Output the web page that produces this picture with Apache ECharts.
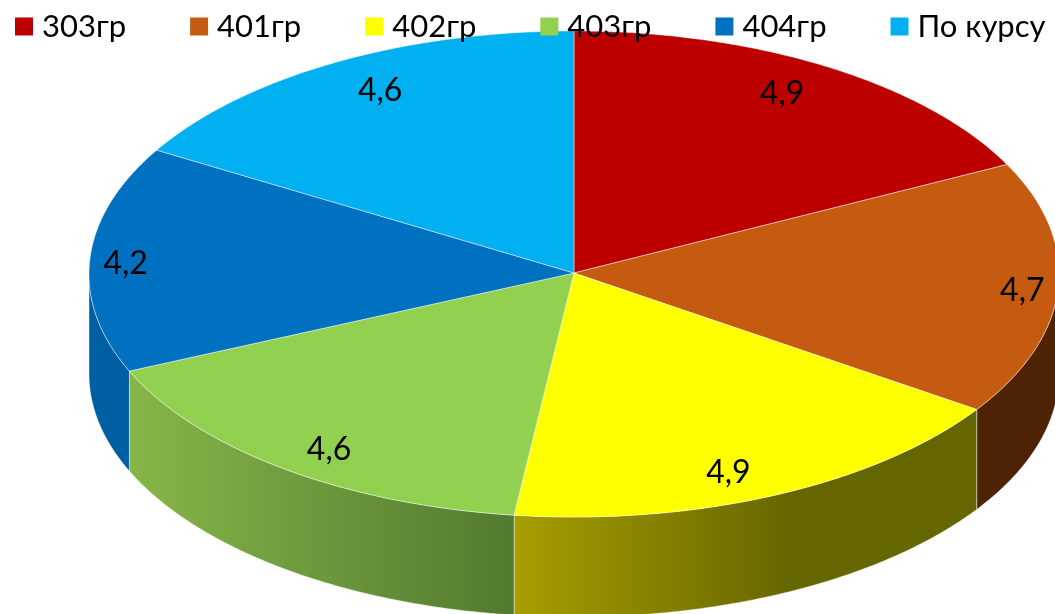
<!DOCTYPE html>
<html><head><meta charset="utf-8">
<style>html,body{margin:0;padding:0;background:#fff}#c{width:1055px;height:614px}</style>
<script src="https://cdn.jsdelivr.net/npm/echarts@6/dist/echarts.min.js"></script>
</head><body><div id="c"></div>
<script>
const categories = ['303гр','401гр','402гр','403гр','404гр','По курсу'];
const values = [4.9,4.7,4.9,4.6,4.2,4.6];
const topColors = ['#BC0000','#C55A11','#FFFF00','#92D050','#0070C0','#00B0F0'];
const wallStart = ['#600000','#4D2205','#A69E00','#86B648','#005EA3','#005880'];
const wallEnd   = ['#600000','#4D2205','#666600','#527A30','#005EA3','#005880'];

const CX=574, CY=274, RX=485, RY=243, DEPTH=100;
const total = values.reduce((a,b)=>a+b,0);
const edge = (deg,dy=0)=>{const r=deg*Math.PI/180;return [CX+RX*Math.sin(r),CY-RY*Math.cos(r)+dy];};
const arc = (a,b,dy=0)=>{const p=[];const n=Math.max(2,Math.ceil((b-a)*2));for(let i=0;i<=n;i++)p.push(edge(a+(b-a)*i/n,dy));return p;};
const LINE='rgba(255,255,255,0.55)';

function render(idx){
  return function(params,api){
    const v=api.value(0);
    let before=0; for(let i=0;i<idx;i++) before+=values[i];
    const a0=before/total*360, a1=(before+v)/total*360;
    const children=[];
    const w0=Math.max(a0,90), w1=Math.min(a1,270);
    if(w1>w0){
      const front=arc(w0,w1,0), back=arc(w0,w1,DEPTH).reverse();
      const xs=front.map(p=>p[0]);
      const xl=Math.min(...xs), xr=Math.max(...xs);
      children.push({type:'polygon',z2:1,shape:{points:front.concat(back)},
        style:{fill:{type:'linear',x:xl,y:0,x2:xr,y2:0,global:true,colorStops:[
          {offset:0,color:wallStart[idx]},{offset:idx===2?0.6:1,color:wallEnd[idx]},{offset:1,color:wallEnd[idx]}]},
          stroke:LINE,lineWidth:0.8}});
    }
    children.push({type:'polygon',z2:2,shape:{points:[[CX,CY-1]].concat(arc(a0,a1))},
      style:{fill:topColors[idx],stroke:LINE,lineWidth:0.8}});
    const mid=(a0+a1)/2, r=mid*Math.PI/180, e=edge(mid);
    const inset=35+13*Math.abs(Math.cos(r));
    children.push({type:'text',z2:3,style:{
      x:e[0]-inset*Math.sign(Math.sin(r)), y:e[1]+28*Math.cos(r)+3,
      text:String(v).replace('.',','),fill:'#000',
      font:'32px Lato',align:'center',verticalAlign:'middle'}});
    return {type:'group',children};
  };
}

const chart=echarts.init(document.getElementById('c'),null,{renderer:'canvas'});
chart.setOption({
  animation:false,
  backgroundColor:'#fff',
  legend:{show:true,left:10,top:6,icon:'rect',itemWidth:18,itemHeight:18,itemGap:64,
    data:categories,textStyle:{fontFamily:'Lato',fontSize:31,color:'#000',padding:[0,0,0,4]}},
  series:categories.map((name,i)=>({
    type:'custom',name,coordinateSystem:'none',silent:true,
    itemStyle:{color:topColors[i]},
    renderItem:render(i),data:[[values[i]]]
  }))
});
</script></body></html>
